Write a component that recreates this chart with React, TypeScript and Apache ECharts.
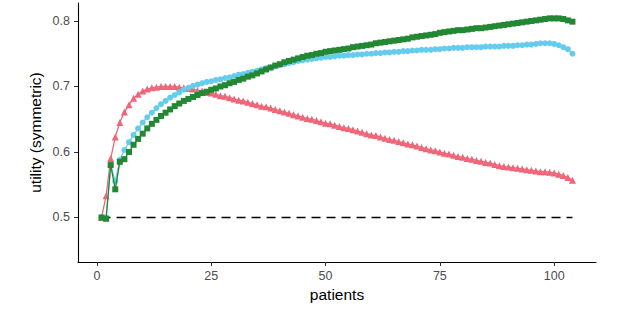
import React, { useEffect, useRef } from "react";
import * as echarts from "echarts";

const patients = [
  1, 2, 3, 4, 5, 6, 7, 8, 9, 10, 11, 12, 13, 14, 15, 16, 17, 18, 19, 20,
  21, 22, 23, 24, 25, 26, 27, 28, 29, 30, 31, 32, 33, 34, 35, 36, 37, 38, 39, 40,
  41, 42, 43, 44, 45, 46, 47, 48, 49, 50, 51, 52, 53, 54, 55, 56, 57, 58, 59, 60,
  61, 62, 63, 64, 65, 66, 67, 68, 69, 70, 71, 72, 73, 74, 75, 76, 77, 78, 79, 80,
  81, 82, 83, 84, 85, 86, 87, 88, 89, 90, 91, 92, 93, 94, 95, 96, 97, 98, 99, 100,
  101, 102, 103, 104,
];

const redUtility = [
  0.5, 0.533, 0.59, 0.623, 0.645, 0.661, 0.672, 0.682, 0.688, 0.693,
  0.696, 0.698, 0.699, 0.7, 0.7, 0.7, 0.7, 0.699, 0.698, 0.697,
  0.696, 0.694, 0.693, 0.691, 0.69, 0.688, 0.686, 0.685, 0.683, 0.681,
  0.679, 0.678, 0.676, 0.674, 0.672, 0.67, 0.669, 0.667, 0.665, 0.663,
  0.661, 0.659, 0.657, 0.655, 0.653, 0.651, 0.65, 0.648, 0.646, 0.644,
  0.643, 0.641, 0.639, 0.637, 0.636, 0.634, 0.632, 0.63, 0.628, 0.626,
  0.625, 0.623, 0.621, 0.619, 0.618, 0.616, 0.614, 0.612, 0.611, 0.609,
  0.607, 0.605, 0.603, 0.602, 0.6, 0.598, 0.597, 0.595, 0.593, 0.592,
  0.59, 0.589, 0.587, 0.586, 0.584, 0.583, 0.581, 0.579, 0.578, 0.577,
  0.576, 0.575, 0.574, 0.573, 0.572, 0.571, 0.57, 0.57, 0.569, 0.568,
  0.566, 0.564, 0.561, 0.557,
];

const blueUtility = [
  0.5, 0.5, 0.58, 0.555, 0.588, 0.603, 0.615, 0.626, 0.636, 0.645,
  0.653, 0.66, 0.667, 0.673, 0.678, 0.683, 0.687, 0.691, 0.695, 0.698,
  0.701, 0.703, 0.705, 0.707, 0.708, 0.71, 0.711, 0.713, 0.714, 0.716,
  0.718, 0.719, 0.721, 0.7225, 0.724, 0.726, 0.728, 0.729, 0.731, 0.733,
  0.734, 0.736, 0.737, 0.739, 0.74, 0.741, 0.742, 0.743, 0.744, 0.745,
  0.745, 0.746, 0.747, 0.747, 0.748, 0.748, 0.749, 0.749, 0.75, 0.75,
  0.751, 0.751, 0.752, 0.752, 0.753, 0.753, 0.754, 0.754, 0.755, 0.755,
  0.756, 0.756, 0.756, 0.757, 0.757, 0.758, 0.758, 0.759, 0.759, 0.759,
  0.76, 0.76, 0.76, 0.76, 0.761, 0.761, 0.761, 0.761, 0.762, 0.762,
  0.762, 0.763, 0.763, 0.764, 0.764, 0.765, 0.766, 0.766, 0.766, 0.765,
  0.763, 0.76, 0.757, 0.75,
];

const greenUtility = [
  0.5, 0.498, 0.58, 0.543, 0.585, 0.589, 0.6, 0.611, 0.62, 0.628,
  0.636, 0.643, 0.649, 0.655, 0.66, 0.665, 0.67, 0.674, 0.678, 0.681,
  0.684, 0.687, 0.69, 0.692, 0.695, 0.697, 0.7, 0.702, 0.705, 0.707,
  0.71, 0.712, 0.715, 0.717, 0.72, 0.723, 0.726, 0.729, 0.732, 0.734,
  0.737, 0.739, 0.741, 0.743, 0.745, 0.747, 0.748, 0.75, 0.751, 0.753,
  0.754, 0.755, 0.756, 0.757, 0.758, 0.76, 0.761, 0.762, 0.763, 0.764,
  0.766, 0.767, 0.768, 0.769, 0.77, 0.771, 0.772, 0.773, 0.775, 0.776,
  0.777, 0.778, 0.779, 0.78, 0.782, 0.783, 0.784, 0.785, 0.786, 0.786,
  0.787, 0.788, 0.789, 0.789, 0.79, 0.791, 0.792, 0.793, 0.794, 0.795,
  0.796, 0.797, 0.798, 0.799, 0.8, 0.801, 0.802, 0.803, 0.804, 0.804,
  0.804, 0.803, 0.801, 0.799,
];

const baselinePatients = [1, 104];
const baselineUtility = [0.5, 0.5];

const xTicks = [0, 25, 50, 75, 100];
const yTicks = [0.5, 0.6, 0.7, 0.8];

const FONT = "'Liberation Sans', Arial, sans-serif";

function pairs(xs: number[], ys: number[]) {
  return xs.map((x, i) => [x, ys[i]]);
}

export default function App() {
  const ref = useRef<HTMLDivElement>(null);
  useEffect(() => {
    if (!ref.current) return;
    const chart = echarts.init(ref.current, undefined, { renderer: "svg" });
    const left = 78;
    const right = 27;
    const top = 3;
    const bottom = 49;
    chart.setOption({
      animation: false,
      grid: { left, right, top, bottom, containLabel: false },
      xAxis: {
        type: "value",
        min: -4.15,
        max: 109.15,
        splitLine: { show: false },
        axisLine: { show: true, onZero: false, lineStyle: { color: "#000", width: 1.1 } },
        axisTick: {
          show: true,
          length: 4,
          lineStyle: { color: "#333", width: 1 },
          customValues: xTicks,
        },
        axisLabel: {
          color: "#4d4d4d",
          fontSize: 12.5,
          fontFamily: FONT,
          margin: 7,
          customValues: xTicks,
        },
      },
      yAxis: {
        type: "value",
        min: 0.432,
        max: 0.8275,
        splitLine: { show: false },
        axisLine: { show: true, onZero: false, lineStyle: { color: "#000", width: 1.1 } },
        axisTick: {
          show: true,
          length: 4,
          lineStyle: { color: "#333", width: 1 },
          customValues: yTicks,
        },
        axisLabel: {
          color: "#4d4d4d",
          fontSize: 12.5,
          fontFamily: FONT,
          margin: 8,
          formatter: (v: number) => v.toFixed(1),
          customValues: yTicks,
        },
      },
      graphic: [
        {
          type: "text",
          x: (left + 623 - right) / 2,
          y: 294,
          style: {
            text: "patients",
            fontSize: 15.5,
            fontFamily: FONT,
            fill: "#000",
            textAlign: "center",
            textVerticalAlign: "middle",
          },
        },
        {
          type: "text",
          x: 35,
          y: (top + 311 - bottom) / 2,
          rotation: Math.PI / 2,
          style: {
            text: "utility (symmetric)",
            fontSize: 15.5,
            fontFamily: FONT,
            fill: "#000",
            textAlign: "center",
            textVerticalAlign: "middle",
          },
        },
      ],
      series: [
        {
          type: "line",
          data: pairs(baselinePatients, baselineUtility),
          symbol: "none",
          lineStyle: { color: "#000", width: 1.4, type: [9, 6] },
          z: 1,
        },
        {
          type: "line",
          data: pairs(patients, redUtility),
          symbol: "triangle",
          symbolSize: 7,
          itemStyle: { color: "#EE6677" },
          lineStyle: { color: "#EE6677", width: 1.3 },
          z: 2,
        },
        {
          type: "line",
          data: pairs(patients, blueUtility),
          symbol: "circle",
          symbolSize: 6,
          itemStyle: { color: "#66CCEE" },
          lineStyle: { color: "#66CCEE", width: 1.3 },
          z: 3,
        },
        {
          type: "line",
          data: pairs(patients, greenUtility),
          symbol: "rect",
          symbolSize: 6,
          itemStyle: { color: "#228833" },
          lineStyle: { color: "#228833", width: 1.3 },
          z: 4,
        },
      ],
    });
    return () => chart.dispose();
  }, []);
  return <div ref={ref} style={{ width: 623, height: 311, position: "absolute", left: 0, top: 0 }} />;
}
